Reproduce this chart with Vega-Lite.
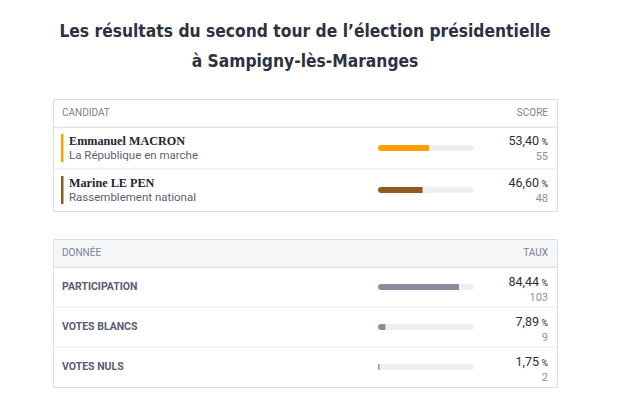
{
  "$schema": "https://vega.github.io/schema/vega-lite/v6.json",
  "padding": {"left": 52, "top": 23, "right": 0, "bottom": 0},
  "background": "white",
  "title": {
    "text": ["Les résultats du second tour de l’élection présidentielle", "à Sampigny-lès-Maranges"],
    "font": "DejaVu Sans Condensed",
    "fontSize": 17.3,
    "fontWeight": "bold",
    "color": "#2e3141",
    "lineHeight": 30,
    "anchor": "middle",
    "offset": 28
  },
  "config": {
    "locale": {"number": {"decimal": ",", "thousands": " ", "grouping": [3], "currency": ["", " €"]}},
    "view": {"stroke": "#dcdde3"},
    "font": "Roboto"
  },
  "spacing": 26,
  "vconcat": [
    {
      "spacing": 0,
      "bounds": "flush",
      "vconcat": [
        {
          "width": 504,
          "height": 28,
          "data": {"values": [{"gauche": "CANDIDAT", "droite": "SCORE"}]},
          "layer": [
            {"mark": {"type": "text", "align": "left", "baseline": "middle", "fontSize": 10, "color": "#7d8193"},
             "encoding": {"x": {"value": 9}, "y": {"value": 14}, "text": {"field": "gauche"}}},
            {"mark": {"type": "text", "align": "right", "baseline": "middle", "fontSize": 10, "color": "#7d8193"},
             "encoding": {"x": {"value": 495}, "y": {"value": 14}, "text": {"field": "droite"}}}
          ]
        },
        {
          "width": 504,
          "height": 84,
          "data": {"values": [
            {"nom": "Emmanuel MACRON", "parti": "La République en marche", "pct": 53.40, "voix": 55},
            {"nom": "Marine LE PEN", "parti": "Rassemblement national", "pct": 46.60, "voix": 48}
          ]},
          "encoding": {
            "y": {"field": "nom", "type": "nominal", "sort": null,
                  "scale": {"paddingInner": 0, "paddingOuter": 0}, "axis": null}
          },
          "layer": [
            {"mark": {"type": "rule", "color": "#e8e9ed", "strokeWidth": 1},
             "encoding": {"y": {"field": "nom", "type": "nominal", "sort": null, "bandPosition": 0}}},
            {"mark": {"type": "bar", "height": 28},
             "encoding": {"x": {"value": 8}, "x2": {"value": 10.5},
                          "color": {"field": "nom", "type": "nominal", "sort": null, "scale": {"range": ["#ffa000", "#8f5b1f"]}, "legend": null}}},
            {"mark": {"type": "text", "align": "left", "baseline": "middle", "dy": -7, "font": "Liberation Serif", "fontWeight": "bold", "fontSize": 12.2, "color": "#23262f"},
             "encoding": {"x": {"value": 16}, "text": {"field": "nom"}}},
            {"mark": {"type": "text", "align": "left", "baseline": "middle", "dy": 8, "fontSize": 11.5, "color": "#5d6172"},
             "encoding": {"x": {"value": 16}, "text": {"field": "parti"}}},
            {"mark": {"type": "bar", "height": 6, "cornerRadius": 3, "color": "#eeeff3"},
             "encoding": {"x": {"datum": 0, "type": "quantitative", "scale": {"domain": [0, 100], "range": [325, 421]}, "axis": null},
                          "x2": {"datum": 100}}},
            {"mark": {"type": "bar", "height": 6, "cornerRadiusTopLeft": 3, "cornerRadiusBottomLeft": 3},
             "encoding": {"x": {"field": "pct", "type": "quantitative", "scale": {"domain": [0, 100], "range": [325, 421]}, "axis": null},
                          "color": {"field": "nom", "type": "nominal", "sort": null, "legend": null}}},
            {"mark": {"type": "text", "align": "right", "baseline": "middle", "dy": -7, "fontSize": 12.5, "color": "#2b2e3a"},
             "encoding": {"x": {"value": 486}, "text": {"field": "pct", "type": "quantitative", "format": ".2f"}}},
            {"mark": {"type": "text", "align": "right", "baseline": "middle", "dy": -6.5, "fontSize": 9, "color": "#2b2e3a"},
             "encoding": {"x": {"value": 495}, "text": {"value": "%"}}},
            {"mark": {"type": "text", "align": "right", "baseline": "middle", "dy": 9, "fontSize": 11, "color": "#8d90a2"},
             "encoding": {"x": {"value": 495}, "text": {"field": "voix", "type": "quantitative"}}}
          ]
        }
      ]
    },
    {
      "spacing": 0,
      "bounds": "flush",
      "vconcat": [
        {
          "width": 504,
          "height": 28,
          "view": {"fill": "#f5f6f8"},
          "data": {"values": [{"gauche": "DONNÉE", "droite": "TAUX"}]},
          "layer": [
            {"mark": {"type": "text", "align": "left", "baseline": "middle", "fontSize": 10, "color": "#7d8193"},
             "encoding": {"x": {"value": 9}, "y": {"value": 14}, "text": {"field": "gauche"}}},
            {"mark": {"type": "text", "align": "right", "baseline": "middle", "fontSize": 10, "color": "#7d8193"},
             "encoding": {"x": {"value": 495}, "y": {"value": 14}, "text": {"field": "droite"}}}
          ]
        },
        {
          "width": 504,
          "height": 120,
          "data": {"values": [
            {"donnee": "PARTICIPATION", "pct": 84.44, "n": 103},
            {"donnee": "VOTES BLANCS", "pct": 7.89, "n": 9},
            {"donnee": "VOTES NULS", "pct": 1.75, "n": 2}
          ]},
          "encoding": {
            "y": {"field": "donnee", "type": "nominal", "sort": null,
                  "scale": {"paddingInner": 0, "paddingOuter": 0}, "axis": null}
          },
          "layer": [
            {"mark": {"type": "rule", "color": "#e8e9ed", "strokeWidth": 1},
             "encoding": {"y": {"field": "donnee", "type": "nominal", "sort": null, "bandPosition": 0}}},
            {"mark": {"type": "text", "align": "left", "baseline": "middle", "fontSize": 10.5, "fontWeight": "bold", "color": "#585c70"},
             "encoding": {"x": {"value": 9}, "text": {"field": "donnee"}}},
            {"mark": {"type": "bar", "height": 6, "cornerRadius": 3, "color": "#eeeff3"},
             "encoding": {"x": {"datum": 0, "type": "quantitative", "scale": {"domain": [0, 100], "range": [325, 421]}, "axis": null},
                          "x2": {"datum": 100}}},
            {"mark": {"type": "bar", "height": 6, "cornerRadiusTopLeft": 3, "cornerRadiusBottomLeft": 3, "color": "#8a8da0"},
             "encoding": {"x": {"field": "pct", "type": "quantitative", "scale": {"domain": [0, 100], "range": [325, 421]}, "axis": null}}},
            {"mark": {"type": "text", "align": "right", "baseline": "middle", "dy": -5, "fontSize": 12.5, "color": "#2b2e3a"},
             "encoding": {"x": {"value": 486}, "text": {"field": "pct", "type": "quantitative", "format": ".2f"}}},
            {"mark": {"type": "text", "align": "right", "baseline": "middle", "dy": -4.5, "fontSize": 9, "color": "#2b2e3a"},
             "encoding": {"x": {"value": 495}, "text": {"value": "%"}}},
            {"mark": {"type": "text", "align": "right", "baseline": "middle", "dy": 10.5, "fontSize": 11, "color": "#8d90a2"},
             "encoding": {"x": {"value": 495}, "text": {"field": "n", "type": "quantitative"}}}
          ]
        }
      ]
    }
  ]
}
